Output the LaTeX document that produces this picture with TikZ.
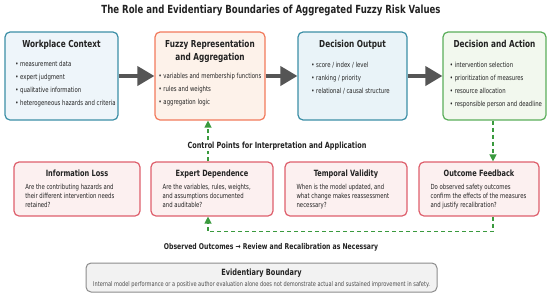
\documentclass[tikz,border=0pt]{standalone}
\usepackage{fontspec}
\setmainfont{DejaVu Sans Condensed}[FakeStretch=0.85]
\usepackage{tikz}
\usetikzlibrary{arrows.meta, positioning, calc}
\definecolor{ctxline}{HTML}{3C8FA6}
\definecolor{ctxfill}{HTML}{EEF5FA}
\definecolor{outfill}{HTML}{E9F3F8}
\definecolor{fuzline}{HTML}{F27A5C}
\definecolor{fuzfill}{HTML}{FDF2EA}
\definecolor{actline}{HTML}{5AAE5A}
\definecolor{actfill}{HTML}{F2F8EE}
\definecolor{ctlline}{HTML}{DE5F6C}
\definecolor{ctlfill}{HTML}{FCF0F0}
\definecolor{evline}{HTML}{8C8C8C}
\definecolor{evfill}{HTML}{F2F2F2}
\definecolor{arrowgray}{HTML}{555555}
\definecolor{fbgreen}{HTML}{3A9A3E}
\definecolor{inktext}{HTML}{222222}

\begin{document}
\begin{tikzpicture}[
  x=1pt, y=-1pt,
  every node/.style={text=inktext},
  block/.style={
    rectangle, rounded corners=5pt, line width=1.2pt, inner sep=0pt
  },
  topblock/.style={block, minimum height=88pt},
  ctxblock/.style={topblock, draw=ctxline, fill=ctxfill},
  fuzblock/.style={topblock, draw=fuzline, fill=fuzfill},
  outblock/.style={topblock, draw=ctxline, fill=outfill},
  actblock/.style={topblock, draw=actline, fill=actfill},
  ctlblock/.style={block, draw=ctlline, fill=ctlfill, minimum height=54pt},
  evblock/.style={block, draw=evline, fill=evfill, line width=1pt,
    minimum width=351pt, minimum height=29pt},
  head/.style={font=\fontsize{9.6}{13.3}\selectfont\bfseries, align=center, inner sep=0pt},
  items/.style={font=\fontsize{7}{13}\selectfont, align=left, inner sep=0pt},
  qhead/.style={font=\fontsize{8.6}{9}\selectfont\bfseries, inner sep=0pt},
  qtext/.style={font=\fontsize{7}{8.8}\selectfont, align=left, inner sep=0pt},
  caption/.style={font=\fontsize{8.5}{9}\selectfont\bfseries, inner sep=1pt},
  arrow/.style={-{Triangle[length=17pt,width=19pt]}, line width=3.8pt, arrowgray},
  fbarrow/.style={-{Triangle[length=7pt,width=7pt]}, line width=1.3pt, fbgreen,
    dash pattern=on 4pt off 3pt}
]
\useasboundingbox (0,0) rectangle (550,298);
\node[font=\fontsize{11.2}{13}\selectfont\bfseries] (title) at (271,10)
  {The Role and Evidentiary Boundaries of Aggregated Fuzzy Risk Values};

\node[ctxblock, minimum width=113pt] (wpc)  at (61.5,76)  {};
\node[fuzblock, minimum width=110pt] (fuz)  at (210,76)   {};
\node[outblock, minimum width=109pt] (dout) at (352.5,76) {};
\node[actblock, minimum width=103pt] (dact) at (494.5,76) {};

\node[head, below=8.8pt of wpc.north]  (wpchead)  {Workplace Context};
\node[head, below=8.8pt of fuz.north]  (fuzhead)  {Fuzzy Representation\\and Aggregation};
\node[head, below=8.8pt of dout.north] (douthead) {Decision Output};
\node[head, below=8.8pt of dact.north] (dacthead) {Decision and Action};

\node[items, below=30pt of wpc.north, xshift=4pt] (wpclist)
  {\textbullet\ measurement data\\\textbullet\ expert judgment\\
   \textbullet\ qualitative information\\\textbullet\ heterogeneous hazards and criteria};
\node[items, below=41.6pt of fuz.north] (fuzlist)
  {\textbullet\ variables and membership functions\\\textbullet\ rules and weights\\
   \textbullet\ aggregation logic};
\node[items, below=31pt of dout.north, xshift=-2pt] (doutlist)
  {\textbullet\ score / index / level\\\textbullet\ ranking / priority\\
   \textbullet\ relational / causal structure};
\node[items, below=31pt of dact.north, xshift=1.5pt] (dactlist)
  {\textbullet\ intervention selection\\\textbullet\ prioritization of measures\\
   \textbullet\ resource allocation\\\textbullet\ responsible person and deadline};

\draw[arrow] (wpc.east)  -- (fuz.west);
\draw[arrow] (fuz.east)  -- (dout.west);
\draw[arrow] (dout.east) -- (dact.west);

\node[ctlblock, minimum width=126pt] (iloss) at (77,189)  {};
\node[ctlblock, minimum width=122pt] (edep)  at (212,189) {};
\node[ctlblock, minimum width=122pt] (tval)  at (346,189) {};
\node[ctlblock, minimum width=120pt] (ofb)   at (479,189) {};

\node[qhead, below=8.8pt of iloss.north] (ilosshead) {Information Loss};
\node[qhead, below=8.8pt of edep.north]  (edephead)  {Expert Dependence};
\node[qhead, below=8.8pt of tval.north]  (tvalhead)  {Temporal Validity};
\node[qhead, below=8.8pt of ofb.north]   (ofbhead)   {Outcome Feedback};

\node[qtext, below right=22.5pt and 11.7pt of iloss.north west] (ilosstext)
  {Are the contributing hazards and\\their different intervention needs\\retained?};
\node[qtext, below right=22.5pt and 12pt of edep.north west] (edeptext)
  {Are the variables, rules, weights,\\and assumptions documented\\and auditable?};
\node[qtext, below right=22.5pt and 12pt of tval.north west] (tvaltext)
  {When is the model updated, and\\what change makes reassessment\\necessary?};
\node[qtext, below right=22.5pt and 12pt of ofb.north west] (ofbtext)
  {Do observed safety outcomes\\confirm the effects of the measures\\and justify recalibration?};

\draw[fbarrow] ([xshift=-4pt]edep.north) -- ([xshift=-4pt]edep.north |- fuz.south);
\draw[fbarrow] ([xshift=-1.5pt]dact.south) -- ([xshift=-1.5pt]dact.south |- ofb.north);
\draw[fbarrow] ([xshift=-1.5pt]dact.south |- ofb.south) -- ++(0,15)
  -| ([xshift=-4pt]edep.south);

\node[caption, fill=white] (ctlcap) at (277,146)
  {Control Points for Interpretation and Application};
\node[font=\fontsize{8}{9}\selectfont\bfseries] (obscap) at (271,247)
  {Observed Outcomes → Review and Recalibration as Necessary};

\node[evblock] (evb) at (261.5,277.5) {};
\node[qhead, below=6.5pt of evb.north] (evbhead) {Evidentiary Boundary};
\node[font=\fontsize{6.6}{7}\selectfont, inner sep=0pt, text=black!70, below=18.4pt of evb.north] (evbtext)
  {Internal model performance or a positive author evaluation alone does not demonstrate actual and sustained improvement in safety.};
\end{tikzpicture}
\end{document}
